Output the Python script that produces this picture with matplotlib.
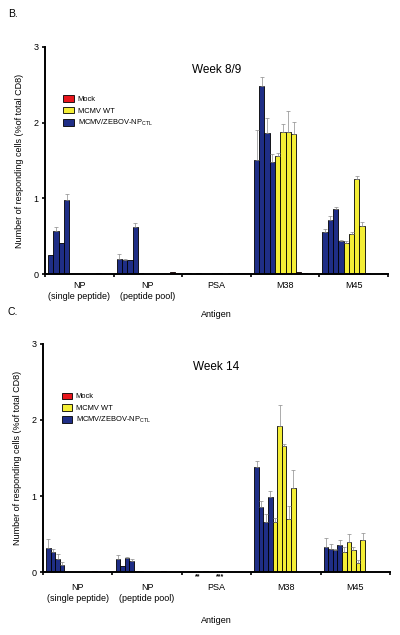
import numpy as np
import matplotlib
matplotlib.use('Agg')
import matplotlib.pyplot as plt
from matplotlib.patches import Patch

plt.rcParams['font.family'] = ['Liberation Sans', 'DejaVu Sans']

groups = ['NP\n(single peptide)', 'NP\n(peptide pool)', 'PSA', 'M38', 'M45']
series_names = ['Mock', 'MCMV WT', 'MCMV/ZEBOV-NP$_{\\mathregular{CTL}}$']

# Week 8/9 (panel B): 4 mice per group
b_zebov = [[0.25, 0.57, 0.41, 0.98],
           [0.20, 0.18, 0.18, 0.62],
           [0.01, 0.00, 0.01, 0.00],
           [1.51, 2.48, 1.86, 1.48],
           [0.56, 0.72, 0.86, 0.43]]
b_zebov_err = [[0.00, 0.05, 0.00, 0.08],
               [0.06, 0.02, 0.00, 0.06],
               [0.00, 0.00, 0.00, 0.00],
               [0.39, 0.12, 0.20, 0.10],
               [0.03, 0.04, 0.02, 0.02]]
b_wt = [[0.00, 0.00, 0.00, 0.00],
        [0.01, 0.00, 0.00, 0.00],
        [0.00, 0.01, 0.01, 0.00],
        [1.56, 1.87, 1.88, 1.85],
        [0.41, 0.53, 1.26, 0.64]]
b_wt_err = [[0.00, 0.00, 0.00, 0.00],
            [0.00, 0.00, 0.00, 0.00],
            [0.00, 0.00, 0.00, 0.00],
            [0.04, 0.11, 0.28, 0.16],
            [0.03, 0.02, 0.03, 0.05]]
b_mock = [[0.00, 0.01, 0.00, 0.005],
          [0.00, 0.00, 0.02, 0.01],
          [0.01, 0.01, 0.01, 0.01],
          [0.02, 0.015, 0.005, 0.00],
          [0.01, 0.00, 0.00, 0.01]]

# Week 14 (panel C): 4 ZEBOV mice, 5 WT mice
c_zebov = [[0.32, 0.27, 0.175, 0.10],
           [0.17, 0.08, 0.18, 0.15],
           [0.00, 0.00, 0.00, 0.00],
           [1.38, 0.86, 0.66, 0.99],
           [0.33, 0.30, 0.285, 0.36]]
c_zebov_err = [[0.12, 0.03, 0.06, 0.03],
               [0.06, 0.00, 0.02, 0.02],
               [0.00, 0.00, 0.00, 0.00],
               [0.08, 0.07, 0.10, 0.08],
               [0.12, 0.07, 0.025, 0.06]]
c_wt = [[0.00, 0.00, 0.00, 0.00, 0.00],
        [0.02, 0.01, 0.00, 0.00, 0.00],
        [0.01, 0.00, 0.00, 0.01, 0.00],
        [0.66, 1.92, 1.66, 0.70, 1.10],
        [0.27, 0.39, 0.285, 0.12, 0.42]]
c_wt_err = [[0.00, 0.00, 0.00, 0.00, 0.00],
            [0.00, 0.00, 0.00, 0.00, 0.00],
            [0.00, 0.00, 0.00, 0.00, 0.00],
            [0.05, 0.27, 0.03, 0.17, 0.24],
            [0.06, 0.11, 0.05, 0.04, 0.09]]
c_mock = [[0.00, 0.01, 0.005, 0.00, 0.00],
          [0.00, 0.01, 0.005, 0.00, 0.00],
          [0.00, 0.00, 0.00, 0.00, 0.00],
          [0.00, 0.00, 0.00, 0.00, 0.00],
          [0.00, 0.00, 0.00, 0.00, 0.00]]

# significance marks under PSA, week 14
c_sig_labels = ['**', '***']
c_sig_x = [2.23, 2.55]

blue = '#1f2e86'
yellow = '#f4ee35'
red = '#e8161c'
err_col = '#8a8a8a'


def draw_panel(ax, title, zebov, zebov_err, wt, wt_err, mock, width, tick_pad):
    gap = 0.045
    for g in range(len(groups)):
        blocks = [(zebov[g], zebov_err[g], blue),
                  (wt[g], wt_err[g], yellow),
                  (mock[g], None, red)]
        k = 0
        for vals, errs, col in blocks:
            vals = np.array(vals)
            xs = g + gap + (k + np.arange(len(vals)) + 0.5) * width
            ax.bar(xs, vals, width=width, color=col, edgecolor='black', linewidth=0.6)
            if errs is not None:
                errs = np.array(errs)
                m = errs > 0
                ax.errorbar(xs[m], vals[m], yerr=[np.zeros(m.sum()), errs[m]],
                            fmt='none', ecolor=err_col, elinewidth=0.5, capsize=1.5, capthick=0.5)
            k += len(vals)
    ax.set_xlim(0, 5)
    ax.set_ylim(0, 3)
    ax.set_yticks([0, 1, 2, 3])
    ax.set_xticks(np.arange(len(groups)) + 0.5)
    ax.set_xticklabels(groups, fontsize=6.5, linespacing=1.3)
    ax.set_xticks(np.arange(0, 6), minor=True)
    ax.tick_params(axis='x', which='major', length=0, pad=tick_pad)
    ax.tick_params(axis='x', which='minor', length=2.5, width=1.2, direction='out')
    ax.tick_params(axis='y', labelsize=6.5, length=2.5, width=1.2, pad=2)
    ax.spines['top'].set_visible(False)
    ax.spines['right'].set_visible(False)
    ax.spines['left'].set_linewidth(1.4)
    ax.spines['bottom'].set_linewidth(1.4)
    ax.set_ylabel('Number of responding cells (%of total CD8)', fontsize=6.5, labelpad=7)
    ax.set_xlabel('Antigen', fontsize=6.5)
    ax.text(0.5, 0.9, title, transform=ax.transAxes, ha='center', va='center', fontsize=8.5)
    handles = [Patch(facecolor=red, edgecolor='black', linewidth=0.6),
               Patch(facecolor=yellow, edgecolor='black', linewidth=0.6),
               Patch(facecolor=blue, edgecolor='black', linewidth=0.6)]
    ax.legend(handles, series_names, loc='upper left', bbox_to_anchor=(0.045, 0.8),
              frameon=False, fontsize=5.4, handlelength=1.4, handleheight=1.0,
              handletextpad=0.5, labelspacing=0.45, borderaxespad=0)


fig = plt.figure(figsize=(4.0, 6.35), dpi=100)
ax1 = fig.add_axes([0.1125, 0.5685, 0.8575, 0.3575])
ax2 = fig.add_axes([0.1075, 0.099, 0.8675, 0.3595])

draw_panel(ax1, 'Week 8/9', b_zebov, b_zebov_err, b_wt, b_wt_err, b_mock, 0.077, 5)
draw_panel(ax2, 'Week 14', c_zebov, c_zebov_err, c_wt, c_wt_err, c_mock, 0.066, 8)

ax1.xaxis.set_label_coords(0.5, -0.16)
ax2.xaxis.set_label_coords(0.5, -0.19)

for lab, x in zip(c_sig_labels, c_sig_x):
    ax2.annotate(lab, xy=(x, 0), xycoords='data', xytext=(0, -3.2), textcoords='offset points',
                 ha='center', va='center', fontsize=5, fontweight='bold')

fig.text(0.02, 0.978, 'B.', fontsize=7.5, va='center')
fig.text(0.02, 0.508, 'C.', fontsize=7.5, va='center')

fig.savefig('out.png', dpi=100)
